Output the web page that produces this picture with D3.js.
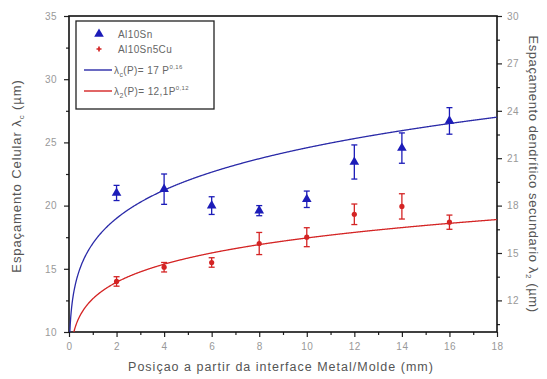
<!DOCTYPE html>
<html>
<head>
<meta charset="utf-8">
<script src="https://cdn.jsdelivr.net/npm/d3@7"></script>
<style>
  html, body { margin: 0; padding: 0; background: #fff; }
  svg { display: block; }
  text { font-family: "Liberation Sans", Arial, sans-serif; }
</style>
</head>
<body>
<svg id="chart" width="547" height="379"></svg>
<script>
// Positions along the casting (mm)
const positions = [2, 4, 6, 8, 10, 12, 14, 16];

// Al10Sn: cellular spacing λc (µm), left axis
const cellSpacing = [21.0, 21.3, 20.0, 19.6, 20.5, 23.45, 24.55, 26.7];
const cellError   = [0.6, 1.2, 0.7, 0.4, 0.65, 1.35, 1.2, 1.05];

// Al10Sn5Cu: secondary dendrite arm spacing λ2 (µm), right axis
const dendSpacing = [13.2, 14.1, 14.4, 15.6, 16.0, 17.45, 17.95, 16.95];
const dendError   = [0.3, 0.3, 0.3, 0.7, 0.6, 0.65, 0.8, 0.45];

// Power-law fits: λ = a · P^b
const cellFit = { a: 17, b: 0.16 };
const dendFit = { a: 12.1, b: 0.12 };

// Axis ticks
const xTicks = [0, 2, 4, 6, 8, 10, 12, 14, 16, 18];
const yLeftTicks = [10, 15, 20, 25, 30, 35];
const yRightTicks = [12, 15, 18, 21, 24, 27, 30];

const W = 547, H = 379;
const m = { left: 69, right: 50, top: 16, bottom: 47 };
const iw = W - m.left - m.right, ih = H - m.top - m.bottom;

const svg = d3.select("#chart");
const g = svg.append("g").attr("transform", `translate(${m.left},${m.top})`);

const x = d3.scaleLinear().domain([0, 18]).range([0, iw]);
const yL = d3.scaleLinear().domain([10, 35]).range([ih, 0]);
const yR = d3.scaleLinear().domain([10, 30]).range([ih, 0]);

const blue = "#1c1cb8", blueLine = "#2a2aa8", red = "#d42424";
const tickColor = "#999";

g.append("clipPath").attr("id", "plotClip")
  .append("rect").attr("width", iw).attr("height", ih);

// Minor ticks
function minor(axisGen, values) {
  return axisGen.tickValues(values).tickSize(3).tickFormat("");
}
const xMinor = d3.range(1, 18, 2);
const yLMinor = d3.range(12.5, 35, 5);
const yRMinor = d3.range(10.5, 30, 3);

g.append("g").attr("transform", `translate(0,${ih})`).call(minor(d3.axisBottom(x), xMinor));
g.append("g").call(minor(d3.axisLeft(yL), yLMinor));
g.append("g").attr("transform", `translate(${iw},0)`).call(minor(d3.axisRight(yR), yRMinor));

// Major axes
const xAxis = g.append("g").attr("transform", `translate(0,${ih})`)
  .call(d3.axisBottom(x).tickValues(xTicks).tickSize(5).tickPadding(6).tickSizeOuter(0));
const yAxisL = g.append("g")
  .call(d3.axisLeft(yL).tickValues(yLeftTicks).tickSize(5).tickPadding(7).tickSizeOuter(0));
const yAxisR = g.append("g").attr("transform", `translate(${iw},0)`)
  .call(d3.axisRight(yR).tickValues(yRightTicks).tickSize(5).tickPadding(5).tickSizeOuter(0));

g.selectAll(".domain").remove();
g.selectAll(".tick line").attr("stroke", "#222").attr("stroke-width", 1.2);
[xAxis, yAxisL, yAxisR].forEach(a => a.selectAll("text")
  .attr("fill", tickColor).style("font-size", "10px").style("letter-spacing", "0.5px"));

// Frame
g.append("rect").attr("width", iw).attr("height", ih)
  .attr("fill", "none").attr("stroke", "#111").attr("stroke-width", 1.6);

// Fitted curves
const curvePts = d3.range(0.01, 18.001, 0.02);
const plot = g.append("g").attr("clip-path", "url(#plotClip)");
plot.append("path")
  .datum(curvePts)
  .attr("fill", "none").attr("stroke", blueLine).attr("stroke-width", 1.3)
  .attr("d", d3.line().x(p => x(p)).y(p => yL(cellFit.a * Math.pow(p, cellFit.b))));
plot.append("path")
  .datum(curvePts)
  .attr("fill", "none").attr("stroke", red).attr("stroke-width", 1.3)
  .attr("d", d3.line().x(p => x(p)).y(p => yR(dendFit.a * Math.pow(p, dendFit.b))));

// Error bars
function errorBars(vals, errs, scale, color) {
  const cap = 3;
  const eg = g.append("g").attr("stroke", color).attr("stroke-width", 1.3);
  positions.forEach((p, i) => {
    const cx = x(p), t = scale(vals[i] + errs[i]), b = scale(vals[i] - errs[i]);
    eg.append("line").attr("x1", cx).attr("x2", cx).attr("y1", t).attr("y2", b);
    eg.append("line").attr("x1", cx - cap).attr("x2", cx + cap).attr("y1", t).attr("y2", t);
    eg.append("line").attr("x1", cx - cap).attr("x2", cx + cap).attr("y1", b).attr("y2", b);
  });
}
errorBars(cellSpacing, cellError, yL, blue);
errorBars(dendSpacing, dendError, yR, red);

// Markers
const tri = d3.symbol().type(d3.symbolTriangle).size(40);
g.append("g").selectAll("path").data(positions).join("path")
  .attr("d", tri)
  .attr("transform", (p, i) => `translate(${x(p)},${yL(cellSpacing[i])})`)
  .attr("fill", blue);
g.append("g").selectAll("circle").data(positions).join("circle")
  .attr("cx", p => x(p)).attr("cy", (p, i) => yR(dendSpacing[i])).attr("r", 2.6)
  .attr("fill", red);

// Legend
const lg = svg.append("g").attr("transform", "translate(76,21)");
lg.append("rect").attr("width", 138).attr("height", 88)
  .attr("fill", "#fff").attr("stroke", "#222").attr("stroke-width", 1.3);
const legText = "#666";
const legFont = { "font-size": "10px", "letter-spacing": "0.4px" };
function styleText(t) { Object.entries(legFont).forEach(([k, v]) => t.style(k, v)); return t; }
lg.append("path").attr("d", d3.symbol().type(d3.symbolTriangle).size(40))
  .attr("transform", "translate(23,13)").attr("fill", blue);
styleText(lg.append("text").attr("x", 42).attr("y", 17).attr("fill", legText)).text("Al10Sn");
lg.append("path").attr("d", d3.symbol().type(d3.symbolCross).size(14))
  .attr("transform", "translate(23,28)").attr("fill", red);
styleText(lg.append("text").attr("x", 42).attr("y", 32).attr("fill", legText)).text("Al10Sn5Cu");

lg.append("line").attr("x1", 8).attr("x2", 36).attr("y1", 49).attr("y2", 49)
  .attr("stroke", blueLine).attr("stroke-width", 1.4);
const t1 = styleText(lg.append("text").attr("x", 38).attr("y", 53).attr("fill", legText));
t1.append("tspan").text("λ");
t1.append("tspan").attr("dy", 3).style("font-size", "7px").text("c");
t1.append("tspan").attr("dy", -3).text("(P)= 17 P");
t1.append("tspan").attr("dy", -5).style("font-size", "6px").text("0,16");

lg.append("line").attr("x1", 8).attr("x2", 36).attr("y1", 70).attr("y2", 70)
  .attr("stroke", red).attr("stroke-width", 1.4);
const t2 = styleText(lg.append("text").attr("x", 38).attr("y", 74).attr("fill", legText));
t2.append("tspan").text("λ");
t2.append("tspan").attr("dy", 3).style("font-size", "7px").text("2");
t2.append("tspan").attr("dy", -3).text("(P)= 12,1P");
t2.append("tspan").attr("dy", -5).style("font-size", "6px").text("0,12");

// Axis titles
const titleColor = "#555";
svg.append("text").attr("x", m.left + iw / 2 - 2).attr("y", 371)
  .attr("text-anchor", "middle").attr("fill", titleColor)
  .style("font-size", "12.5px").style("letter-spacing", "1px")
  .text("Posiçao a partir da interface Metal/Molde (mm)");

const lt = svg.append("text").attr("transform", `translate(21,${m.top + ih / 2 + 2}) rotate(-90)`)
  .attr("text-anchor", "middle").attr("fill", titleColor)
  .style("font-size", "13px").style("letter-spacing", "0.9px");
lt.append("tspan").text("Espaçamento Celular λ");
lt.append("tspan").attr("dy", 3).style("font-size", "8px").text("c");
lt.append("tspan").attr("dy", -3).text(" (µm)");

const rt = svg.append("text").attr("transform", `translate(529,${m.top + ih / 2}) rotate(90)`)
  .attr("text-anchor", "middle").attr("fill", titleColor)
  .style("font-size", "13px").style("letter-spacing", "0.6px");
rt.append("tspan").text("Espaçamento dendrítico secundario λ");
rt.append("tspan").attr("dy", 3).style("font-size", "8px").text("2");
rt.append("tspan").attr("dy", -3).text(" (µm)");
</script>
</body>
</html>
